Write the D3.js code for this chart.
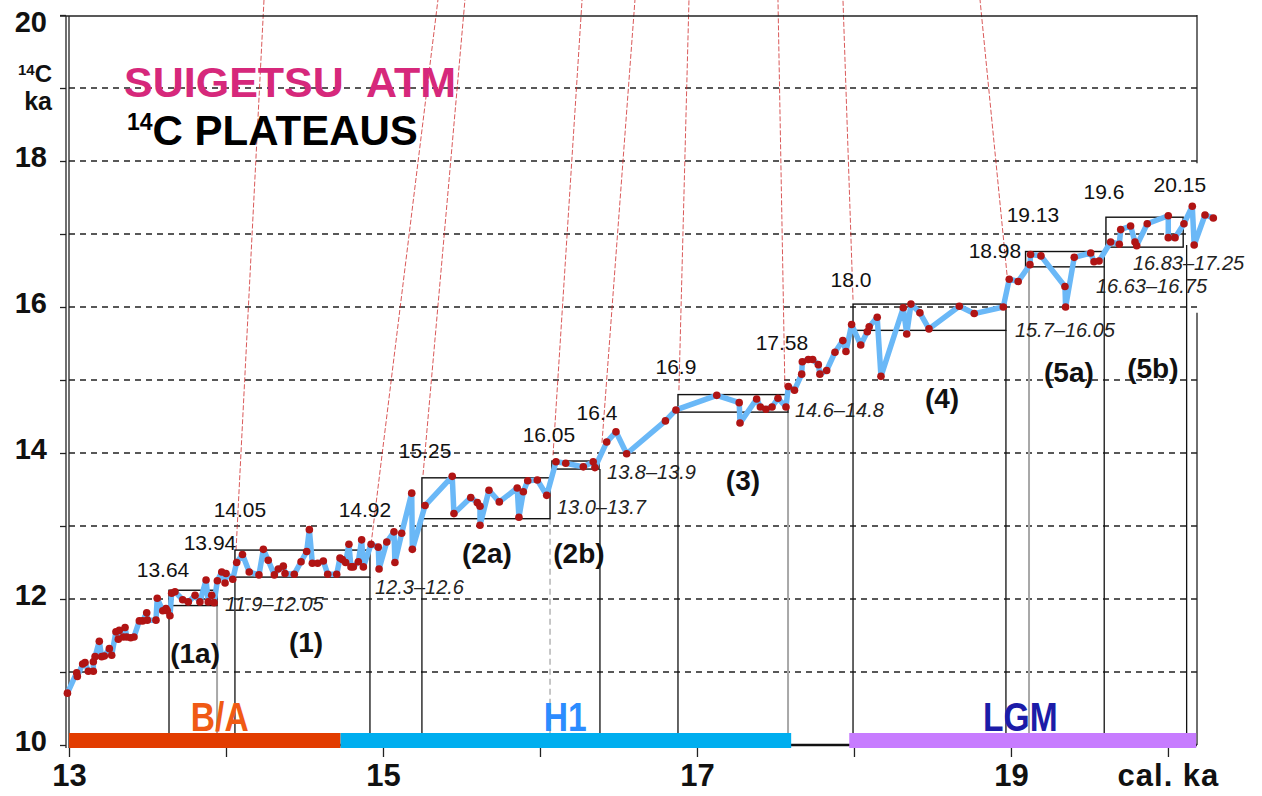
<!DOCTYPE html>
<html>
<head>
<meta charset="utf-8">
<script src="https://cdn.jsdelivr.net/npm/d3@7"></script>
<style>
body { margin: 0; background: #fff; }
svg { display: block; font-family: Arial, "Liberation Sans", sans-serif; }
</style>
</head>
<body>
<svg id="chart" width="1262" height="796"></svg>
<script>
// Suigetsu atmospheric 14C record (cal. ka vs 14C ka)
const calAge = [12.99,13.049,13.053,13.087,13.102,13.123,13.155,13.155,13.166,13.193,
  13.208,13.225,13.257,13.272,13.299,13.314,13.320,13.346,13.357,13.368,
  13.393,13.414,13.448,13.469,13.495,13.499,13.554,13.562,13.597,13.618,
  13.626,13.643,13.654,13.675,13.724,13.760,13.803,13.834,13.873,13.887,
  13.909,13.924,13.945,13.973,13.994,14.000,14.043,14.068,14.105,14.148,
  14.210,14.238,14.269,14.308,14.333,14.365,14.376,14.435,14.478,14.514,
  14.531,14.550,14.584,14.620,14.648,14.705,14.726,14.741,14.762,14.783,
  14.796,14.811,14.843,14.864,14.875,14.924,14.970,14.975,15.024,15.070,
  15.076,15.119,15.183,15.187,15.268,15.441,15.452,15.559,15.601,15.618,
  15.618,15.675,15.741,15.855,15.866,15.894,15.922,15.983,16.043,16.102,
  16.164,16.276,16.339,16.350,16.425,16.484,16.552,16.799,16.866,17.126,
  17.269,17.274,17.380,17.404,17.439,17.478,17.516,17.567,17.582,17.621,
  17.667,17.671,17.709,17.737,17.773,17.783,17.826,17.879,17.929,17.949,
  17.985,18.043,18.085,18.097,18.148,18.172,18.314,18.336,18.363,18.420,
  18.478,18.671,18.766,18.951,18.989,19.046,19.121,19.125,19.191,19.344,
  19.348,19.403,19.508,19.529,19.561,19.635,19.690,19.699,19.762,19.790,
  19.801,19.868,20.002,20.002,20.045,20.102,20.155,20.167,20.236,20.289];
const c14Age = [10.71,10.99,10.94,11.11,11.13,11.01,11.01,11.14,11.21,11.42,
  11.21,11.22,11.32,11.23,11.55,11.45,11.57,11.48,11.61,11.48,
  11.47,11.48,11.70,11.70,11.81,11.71,11.71,12.01,11.84,11.87,
  11.84,11.77,12.08,12.10,11.99,11.96,12.05,11.96,12.26,11.96,
  12.05,11.95,12.25,12.37,12.22,12.35,12.27,12.50,12.61,12.37,
  12.33,12.68,12.53,12.33,12.41,12.45,12.35,12.34,12.51,12.65,
  12.95,12.49,12.49,12.52,12.34,12.34,12.56,12.54,12.50,12.75,
  12.44,12.44,12.51,12.81,12.44,12.75,12.71,12.41,12.78,12.92,
  12.50,12.90,13.45,12.68,13.28,13.68,13.17,13.39,13.32,13.27,
  13.01,13.49,13.33,13.52,13.12,13.47,13.62,13.63,13.42,13.88,
  13.86,13.81,13.88,13.80,14.15,14.29,13.99,14.44,14.59,14.79,
  14.69,14.41,14.74,14.63,14.60,14.63,14.75,14.63,14.91,14.86,
  15.08,15.25,15.28,15.28,15.21,15.08,15.13,15.38,15.54,15.39,
  15.76,15.48,15.66,15.73,15.86,15.05,15.99,15.63,16.04,15.92,
  15.70,16.01,15.91,16.00,16.38,16.35,16.58,16.72,16.70,16.28,
  16.00,16.68,16.74,16.62,16.63,16.89,16.86,17.06,17.11,16.89,
  16.84,17.14,17.25,16.95,16.95,17.14,17.38,16.85,17.26,17.22];

// plateau boxes
const plateauNames = ["(1a)","(1)","(2a)","(2b)","(3)","(4)","(5a)","(5b)"];
const plateauStart = [13.637,14.057,15.248,16.076,16.879,17.994,19.093,19.605];
const plateauEnd   = [13.943,14.917,16.064,16.376,17.58,18.968,19.594,20.097];
const plateauLo    = [11.91,12.30,13.10,13.78,14.56,15.68,16.55,16.82];
const plateauHi    = [12.12,12.67,13.66,13.89,14.80,16.04,16.76,17.23];
const plateauRange = ["11.9\u201312.05","12.3\u201312.6","13.0\u201313.7","13.8\u201313.9",
  "14.6\u201314.8","15.7\u201316.05","16.63\u201316.75","16.83\u201317.25"];

// vertical boundary lines down to the bar
const dropAt   = [13.637,13.943,14.057,14.917,15.248,16.064,16.382,16.879,17.58,17.994,18.968,19.115,19.594,20.119];
const dropTop  = [11.91,11.91,12.30,12.30,13.10,13.10,13.78,14.56,14.56,15.68,15.68,16.55,16.55,16.85];
const dropKind = ["solid","gray","solid","solid","solid","dashed","solid","solid","gray","solid","solid","gray","solid","solid"];

// boundary age labels
const boundaryText = ["13.64","13.94","14.05","14.92","15.25","16.05","16.4","16.9","17.58","18.0","18.98","19.13","19.6","20.15"];

// red tie lines to the panel above
const tieBottomT = [14.064,14.924,15.255,16.083,16.395,16.885,17.56,17.994,18.975];
const tieBottomC = [12.67,12.75,13.70,13.97,14.14,14.86,14.90,16.10,16.44];
const tieTopT    = [14.242,15.350,15.522,16.268,16.605,16.949,17.516,17.930,18.803];

// climate periods
const epochNames = ["B/A","H1","LGM"];
const epochStart = [13.0,14.73,17.97];
const epochEnd   = [14.73,17.6,20.18];

// ---- layout (annotation placement, chart units) ----
const boundaryLabelAt = [[13.599,12.40],[13.898,12.78],[14.089,13.22],[14.885,13.22],[15.268,14.03],
  [16.057,14.25],[16.363,14.56],[16.866,15.19],[17.541,15.52],[17.981,16.38],[18.898,16.78],
  [19.140,17.27],[19.592,17.58],[20.076,17.68]];
const nameLabelAt = [[13.803,11.26],[14.510,11.41],[15.662,12.63],[16.248,12.63],
  [17.293,13.62],[18.561,14.75],[19.369,15.10],[19.904,15.16]];
const rangeLabelAt = [[13.994,11.93],[14.949,12.16],[16.108,13.26],[16.427,13.74],
  [17.624,14.59],[19.025,15.68],[19.541,16.29],[19.777,16.60]];
const epochLabelT = [13.96,16.16,19.06];
const epochColor = ["#e23c00","#00aeef","#c77cff"];
const epochTextColor = ["#f05a14","#2b8cff","#1c1ca8"];

const svg = d3.select("#chart");
const x = d3.scaleLinear().domain([13, 20.185]).range([69, 1197]);
const y = d3.scaleLinear().domain([10, 20]).range([745, 15]);

// gridlines
svg.append("g").selectAll("line").data(d3.range(11, 20)).enter().append("line")
  .attr("x1", x(13)).attr("x2", x(20.185))
  .attr("y1", d => y(d)).attr("y2", d => y(d))
  .attr("stroke", "#222").attr("stroke-width", 1.3).attr("stroke-dasharray", "6,5");

// red tie lines
svg.append("g").selectAll("line").data(tieBottomT).enter().append("line")
  .attr("x1", d => x(d)).attr("y1", (d, i) => y(tieBottomC[i]))
  .attr("x2", (d, i) => x(tieTopT[i])).attr("y2", 0)
  .attr("stroke", "#cc2222").attr("stroke-opacity", 0.75)
  .attr("stroke-width", 1).attr("stroke-dasharray", "5,2");

// drop lines
svg.append("g").selectAll("line").data(dropAt).enter().append("line")
  .attr("x1", d => x(d)).attr("x2", d => x(d))
  .attr("y1", (d, i) => y(dropTop[i])).attr("y2", y(10))
  .attr("stroke", (d, i) => dropKind[i] === "solid" ? "#111" : "#a8a8a8")
  .attr("stroke-width", (d, i) => dropKind[i] === "gray" ? 2 : 1.3)
  .attr("stroke-dasharray", (d, i) => dropKind[i] === "dashed" ? "6,4" : null);

// plateau boxes
svg.append("g").selectAll("rect").data(plateauNames).enter().append("rect")
  .attr("x", (d, i) => x(plateauStart[i]))
  .attr("y", (d, i) => y(plateauHi[i]))
  .attr("width", (d, i) => x(plateauEnd[i]) - x(plateauStart[i]))
  .attr("height", (d, i) => y(plateauLo[i]) - y(plateauHi[i]))
  .attr("fill", "none").attr("stroke", "#111").attr("stroke-width", 1.4);

// frame
svg.append("line").attr("x1", 60).attr("x2", x(20.185)).attr("y1", 16).attr("y2", 16)
  .attr("stroke", "#222").attr("stroke-width", 1.4);
[66, 69].forEach(px => svg.append("line").attr("x1", px).attr("x2", px)
  .attr("y1", 16).attr("y2", 748).attr("stroke", "#222").attr("stroke-width", 1.3));
[[20, 17.97], [15.92, 10]].forEach(s => svg.append("line")
  .attr("x1", x(20.185)).attr("x2", x(20.185)).attr("y1", y(s[0])).attr("y2", y(s[1]))
  .attr("stroke", "#222").attr("stroke-width", 1.3));

// y ticks
svg.append("g").attr("transform", "translate(66,0)")
  .call(d3.axisLeft(y).tickValues(d3.range(10, 21)).tickSize(6).tickFormat(""))
  .call(g => g.select(".domain").remove())
  .call(g => g.selectAll("line").attr("stroke", "#222").attr("stroke-width", 1.3));

// data line and dots
const idx = d3.range(calAge.length);
svg.append("path").datum(idx)
  .attr("d", d3.line().x(i => x(calAge[i])).y(i => y(c14Age[i])))
  .attr("fill", "none").attr("stroke", "#6ab8f7").attr("stroke-width", 5.5)
  .attr("stroke-linejoin", "round").attr("stroke-linecap", "round");
svg.append("g").selectAll("circle").data(idx).enter().append("circle")
  .attr("cx", i => x(calAge[i])).attr("cy", i => y(c14Age[i]))
  .attr("r", 3.8).attr("fill", "#b01414");

// boundary labels
svg.append("g").selectAll("text").data(boundaryText).enter().append("text")
  .attr("x", (d, i) => x(boundaryLabelAt[i][0])).attr("y", (d, i) => y(boundaryLabelAt[i][1]))
  .attr("text-anchor", "middle").attr("dominant-baseline", "central")
  .style("font-size", "21px").attr("fill", "#111").text(d => d);

// plateau range labels
svg.append("g").selectAll("text").data(plateauRange).enter().append("text")
  .attr("x", (d, i) => x(rangeLabelAt[i][0])).attr("y", (d, i) => y(rangeLabelAt[i][1]))
  .attr("dominant-baseline", "central")
  .style("font-size", "20px").style("font-style", "italic").attr("fill", "#222").text(d => d);

// plateau names
svg.append("g").selectAll("text").data(plateauNames).enter().append("text")
  .attr("x", (d, i) => x(nameLabelAt[i][0])).attr("y", (d, i) => y(nameLabelAt[i][1]))
  .attr("text-anchor", "middle").attr("dominant-baseline", "central")
  .style("font-size", "28px").style("font-weight", "bold").attr("fill", "#111").text(d => d);

// x axis line and period bars
svg.append("line").attr("x1", x(13)).attr("x2", x(20.185)).attr("y1", y(10)).attr("y2", y(10))
  .attr("stroke", "#111").attr("stroke-width", 2.5);
svg.append("g").selectAll("rect").data(epochNames).enter().append("rect")
  .attr("x", (d, i) => x(epochStart[i])).attr("y", y(10) - 12)
  .attr("width", (d, i) => x(epochEnd[i]) - x(epochStart[i])).attr("height", 15)
  .attr("fill", (d, i) => epochColor[i]);
svg.append("g").selectAll("text").data(epochNames).enter().append("text")
  .attr("transform", (d, i) => "translate(" + x(epochLabelT[i]) + ",731) scale(0.84,1)")
  .attr("text-anchor", "middle")
  .style("font-size", "40px").style("font-weight", "bold")
  .attr("fill", (d, i) => epochTextColor[i]).text(d => d);

// x ticks and labels
svg.append("g").attr("transform", "translate(0,748)")
  .call(d3.axisBottom(x).tickValues(d3.range(13, 21)).tickSize(9).tickPadding(7)
    .tickFormat(d => d === 20 ? "cal. ka" : (d % 2 ? d : "")))
  .call(g => g.select(".domain").remove())
  .call(g => g.selectAll("line").attr("stroke", "#222").attr("stroke-width", 1.3))
  .call(g => g.selectAll("text").attr("fill", "#111")
    .style("font-size", "31px").style("font-weight", "bold")
    .style("font-family", "Arial, 'Liberation Sans', sans-serif")
    .style("letter-spacing", d => d === 20 ? "1px" : null));

// y labels
svg.append("g").selectAll("text").data(d3.range(10, 21, 2)).enter().append("text")
  .attr("x", 47).attr("y", d => d === 20 ? y(d) + 7 : y(d) - 4)
  .attr("text-anchor", "end").attr("dominant-baseline", "central")
  .style("font-size", "29px").style("font-weight", "bold").attr("fill", "#111").text(d => d);
const yUnit = svg.append("text").attr("x", 52).attr("y", 82).attr("text-anchor", "end")
  .style("font-size", "24px").style("font-weight", "bold").attr("fill", "#111");
yUnit.append("tspan").style("font-size", "15px").attr("dy", -7).text("14");
yUnit.append("tspan").attr("dy", 7).text("C");
svg.append("text").attr("x", 52).attr("y", 110).attr("text-anchor", "end")
  .style("font-size", "25px").style("font-weight", "bold").attr("fill", "#111").text("ka");

// titles
svg.append("text").attr("x", 124).attr("y", 97)
  .style("font-size", "43px").style("font-weight", "bold").style("white-space", "pre")
  .attr("fill", "#d6287b").text("SUIGETSU  ATM");
const t2 = svg.append("text").attr("x", 127).attr("y", 145)
  .style("font-size", "42px").style("font-weight", "bold").attr("fill", "#000");
t2.append("tspan").style("font-size", "23px").attr("dy", -15).text("14");
t2.append("tspan").attr("dy", 15).text("C PLATEAUS");
</script>
</body>
</html>
